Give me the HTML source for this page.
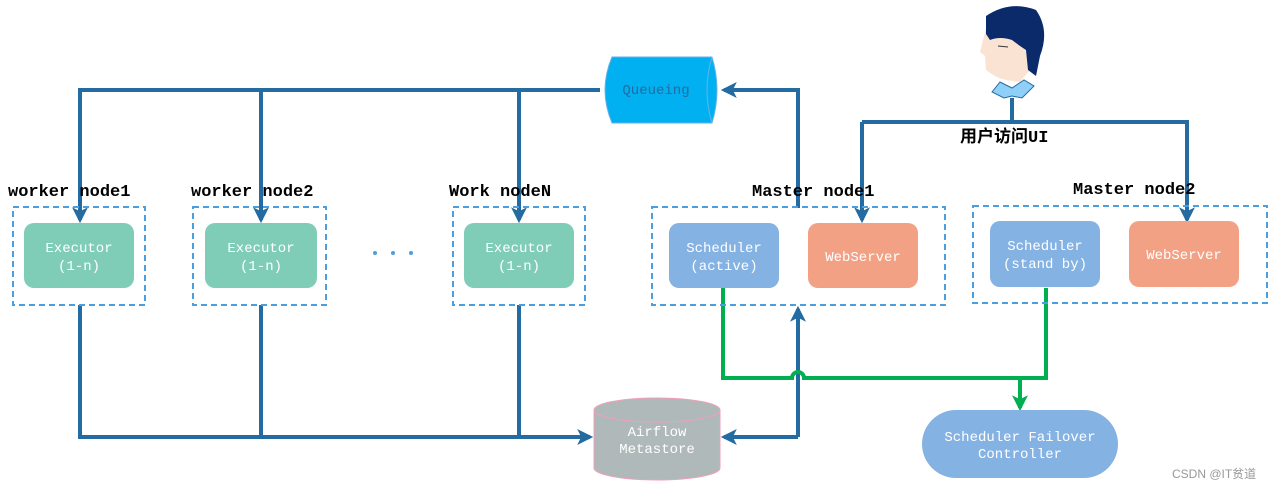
<!DOCTYPE html>
<html><head><meta charset="utf-8"><style>
html,body{margin:0;padding:0;background:#fff;}
svg{display:block;}
.lbl{font-family:"Liberation Mono","Noto Sans CJK SC",monospace;font-size:17px;font-weight:bold;fill:#000;}
.bx{font-family:"Liberation Mono","Noto Sans CJK SC",monospace;font-size:14px;fill:#fff;text-anchor:middle;}
</style></head><body>
<svg width="1277" height="490" viewBox="0 0 1277 490" xmlns="http://www.w3.org/2000/svg">
<defs>
<marker id="a" markerWidth="4" markerHeight="4" refX="3.2" refY="2" orient="auto" markerUnits="strokeWidth"><path d="M0,0 L4,2 L0,4 L1,2 z" fill="#236ba0"/></marker>
<marker id="g" markerWidth="4" markerHeight="4" refX="3.2" refY="2" orient="auto" markerUnits="strokeWidth"><path d="M0,0 L4,2 L0,4 L1,2 z" fill="#00b050"/></marker>
</defs>
<g fill="none" stroke="#236ba0" stroke-width="4">
<path d="M600,90 H80 V220" marker-end="url(#a)"/>
<path d="M261,90 V220" marker-end="url(#a)"/>
<path d="M519,90 V220" marker-end="url(#a)"/>
<path d="M798,208 V90 H724" marker-end="url(#a)"/>
<path d="M1012,98 V122"/>
<path d="M862,122 H1187 V220" marker-end="url(#a)"/>
<path d="M862,122 V220" marker-end="url(#a)"/>
<path d="M80,305 V437 H590" marker-end="url(#a)"/>
<path d="M261,305 V437"/>
<path d="M519,305 V437"/>
<path d="M798,437 H724" marker-end="url(#a)"/>
<path d="M798,437 V309" marker-end="url(#a)"/>
</g>
<g fill="none" stroke="#00b050" stroke-width="4">
<path d="M723,288 V378 H792 A6,6 0 0 1 804,378 H1046 V288"/>
<path d="M1020,378 V408" marker-end="url(#g)"/>
</g>
<g fill="none" stroke="#4a9fe0" stroke-width="2" stroke-dasharray="6,4">
<rect x="13" y="207" width="132" height="98"/>
<rect x="193" y="207" width="133" height="98"/>
<rect x="453" y="207" width="132" height="98"/>
<rect x="652" y="207" width="293" height="98"/>
<rect x="973" y="206" width="294" height="97"/>
</g>
<g>
<rect x="24" y="223" width="110" height="65" rx="10" fill="#7fcdb7"/>
<rect x="205" y="223" width="112" height="65" rx="10" fill="#7fcdb7"/>
<rect x="464" y="223" width="110" height="65" rx="10" fill="#7fcdb7"/>
<rect x="669" y="223" width="110" height="65" rx="10" fill="#84b2e2"/>
<rect x="808" y="223" width="110" height="65" rx="10" fill="#f3a185"/>
<rect x="990" y="221" width="110" height="66" rx="10" fill="#84b2e2"/>
<rect x="1129" y="221" width="110" height="66" rx="10" fill="#f3a185"/>
</g>
<text class="bx" x="79" y="252">Executor</text><text class="bx" x="79" y="270">(1-n)</text>
<text class="bx" x="261" y="252">Executor</text><text class="bx" x="261" y="270">(1-n)</text>
<text class="bx" x="519" y="252">Executor</text><text class="bx" x="519" y="270">(1-n)</text>
<text class="bx" x="724" y="252">Scheduler</text><text class="bx" x="724" y="270">(active)</text>
<text class="bx" x="863" y="261">WebServer</text>
<text class="bx" x="1045" y="250">Scheduler</text><text class="bx" x="1045" y="268">(stand by)</text>
<text class="bx" x="1184" y="259">WebServer</text>
<g fill="#4a9fe0"><circle cx="375" cy="253" r="2"/><circle cx="393" cy="253" r="2"/><circle cx="411" cy="253" r="2"/></g>
<path d="M612,57 H712 Q722,90 712,123 H612 Q598,90 612,57 z" fill="#00b0f0" stroke="#6ab0e8" stroke-width="1"/>
<path d="M712,57 Q702,90 712,123" fill="none" stroke="#6ab0e8" stroke-width="1"/>
<text x="656" y="94" font-family="Liberation Mono,monospace" font-size="14" fill="#236ba0" text-anchor="middle">Queueing</text>
<path d="M594,410 V468 A63,12 0 0 0 720,468 V410 z" fill="#b0b9b9" stroke="#f0a0b8" stroke-width="1"/>
<ellipse cx="657" cy="410" rx="63" ry="12" fill="#b0b9b9" stroke="#f0a0b8" stroke-width="1"/>
<text class="bx" x="657" y="436">Airflow</text><text class="bx" x="657" y="453">Metastore</text>
<rect x="922" y="410" width="196" height="68" rx="34" fill="#84b2e2"/>
<text class="bx" x="1020" y="441">Scheduler Failover</text><text class="bx" x="1020" y="458">Controller</text>
<!-- person -->
<path d="M992,92 L1000,82 L1012,88 L1024,80 L1034,86 L1022,98 L1012,96 L1004,98 z" fill="#8fd0f8" stroke="#236ba0" stroke-width="1"/>
<path d="M986,28 Q982,44 980,52 L985,56 L986,70 Q996,78 1006,80 L1020,82 L1030,70 L1034,40 L1010,24 z" fill="#fbe3d3"/>
<path d="M986,16 Q1010,0 1036,10 Q1050,30 1040,56 L1036,76 L1028,70 L1026,50 L1020,46 L1012,40 Q1000,36 990,40 L986,34 z" fill="#0a2a6a"/>
<path d="M998,46 L1008,47" stroke="#333" stroke-width="1"/>
<text class="lbl" x="8" y="196">worker node1</text>
<text class="lbl" x="191" y="196">worker node2</text>
<text class="lbl" x="449" y="196">Work nodeN</text>
<text class="lbl" x="752" y="196">Master node1</text>
<text class="lbl" x="1073" y="194">Master node2</text>
<text class="lbl" x="960" y="142">用户访问UI</text>
<text x="1172" y="478" font-family="Liberation Sans,Noto Sans CJK SC,sans-serif" font-size="12" fill="#999">CSDN @IT贫道</text>
</svg>
</body></html>
